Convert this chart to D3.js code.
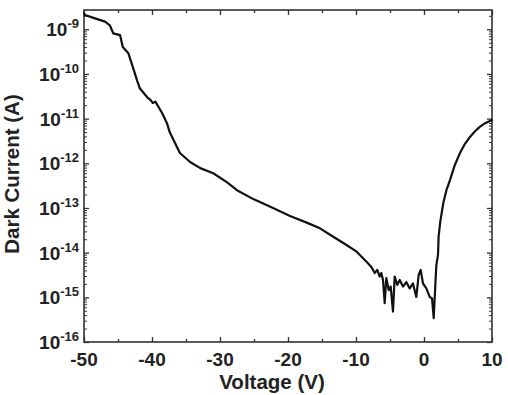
<!DOCTYPE html>
<html>
<head>
<meta charset="utf-8">
<script src="https://cdn.jsdelivr.net/npm/d3@7"></script>
<style>
  body { margin: 0; background: #fff; }
  text { font-family: "Liberation Sans", Arial, sans-serif; font-weight: bold; fill: #222; }
</style>
</head>
<body>
<div id="chart-area"></div>
<script>
let width = 508,
height = 395;

const margin = {top: 10, right: 16, bottom: 53, left: 84};

// data
const voltage = [-50, -49.85, -48.5, -46.9, -46.2, -45.7, -44.7, -44.3, -43.5, -42.8, -42.2, -41.8,
  -40.7, -40.2, -39.9, -39.5, -38.5, -37.8, -37.4, -36.6, -35.9, -34.4, -32.9, -31.0, -29.0,
  -27.5, -25.1, -22.2, -19.7, -17.25, -15.3, -13.4, -11.4, -9.9, -8.24, -7.75, -7.25, -6.87,
  -6.51, -6.28, -6.03, -5.78, -5.54, -5.19, -4.90, -4.56, -4.31, -3.93, -3.57, -3.09, -2.60,
  -2.10, -1.62, -1.13, -0.78, -0.49, -0.15, 0.34, 0.84, 1.18, 1.43, 1.57, 1.81, 2.06, 2.15,
  2.4, 2.84, 3.3, 3.82, 4.5, 5.29, 6.0, 6.76, 7.5, 8.24, 9.0, 10];
const current = [2.24e-9, 2.09e-9, 1.78e-9, 1.48e-9, 1.23e-9, 8.1e-10, 7.4e-10, 4.0e-10, 2.95e-10,
  1.41e-10, 7.2e-11, 4.8e-11, 3.0e-11, 2.6e-11, 2.24e-11, 2.4e-11, 1.32e-11, 7.9e-12, 5.0e-12,
  2.8e-12, 1.7e-12, 1.07e-12, 7.8e-13, 6.0e-13, 3.8e-13, 2.5e-13, 1.58e-13, 1.0e-13, 6.6e-14,
  4.7e-14, 3.5e-14, 2.3e-14, 1.48e-14, 1.05e-14, 5.8e-15, 4.8e-15, 3.5e-15, 4.1e-15, 2.9e-15,
  3.5e-15, 2.45e-15, 7.4e-16, 2.7e-15, 1.45e-15, 1.74e-15, 4.8e-16, 2.9e-15, 1.9e-15, 2.45e-15,
  1.74e-15, 2.2e-15, 1.58e-15, 2.05e-15, 1.02e-15, 3.2e-15, 4.1e-15, 2.05e-15, 1.58e-15,
  1.02e-15, 9.5e-16, 3.4e-16, 9.5e-16, 5.2e-15, 8.9e-15, 2.3e-14, 5.0e-14, 1.29e-13, 2.5e-13,
  4.2e-13, 8.9e-13, 1.7e-12, 2.7e-12, 3.9e-12, 5.2e-12, 6.6e-12, 7.9e-12, 9.3e-12];

const xTicks = [-50, -40, -30, -20, -10, 0, 10];
const xMinor = [-45, -35, -25, -15, -5, 5];
const yExponents = [-9, -10, -11, -12, -13, -14, -15, -16];

const data = voltage.map((v, i) => ({v: v, i: current[i]}));

const svg = d3.select("#chart-area")
  .append("svg")
  .attr("width", width)
  .attr("height", height);

let x = d3.scaleLinear()
  .domain([-50, 10])
  .range([margin.left, width - margin.right]);
let y = d3.scaleLog()
  .domain([1e-16, 2.7e-9])
  .range([height - margin.bottom, margin.top]);

const x0 = x.range()[0], x1 = x.range()[1];
const y0 = y.range()[0], y1 = y.range()[1];

// minor log ticks
let yMinor = [];
for (let e = -16; e <= -9; e++) {
  for (let m = 2; m <= 9; m++) {
    let val = m * Math.pow(10, e);
    if (val <= y.domain()[1]) yMinor.push(val);
  }
}

const tickColor = "#333";

// x axes (bottom + top), ticks pointing inward
[[y0, d3.axisTop], [y1, d3.axisBottom]].forEach(([pos, ax]) => {
  svg.append("g")
    .attr("transform", `translate(0,${pos})`)
    .call(ax(x).tickValues(xTicks).tickSize(5).tickFormat(""))
    .call(g => g.select(".domain").remove())
    .call(g => g.selectAll("line").attr("stroke", tickColor).attr("stroke-width", 1.3));
  svg.append("g")
    .attr("transform", `translate(0,${pos})`)
    .call(ax(x).tickValues(xMinor).tickSize(3).tickFormat(""))
    .call(g => g.select(".domain").remove())
    .call(g => g.selectAll("line").attr("stroke", tickColor).attr("stroke-width", 1.3));
});

// y axes (left + right)
const yMajor = yExponents.map(e => Math.pow(10, e));
[[x0, d3.axisRight], [x1, d3.axisLeft]].forEach(([pos, ax]) => {
  svg.append("g")
    .attr("transform", `translate(${pos},0)`)
    .call(ax(y).tickValues(yMajor).tickSize(5).tickFormat(""))
    .call(g => g.select(".domain").remove())
    .call(g => g.selectAll("line").attr("stroke", tickColor).attr("stroke-width", 1.3));
  svg.append("g")
    .attr("transform", `translate(${pos},0)`)
    .call(ax(y).tickValues(yMinor).tickSize(3).tickFormat(""))
    .call(g => g.select(".domain").remove())
    .call(g => g.selectAll("line").attr("stroke", tickColor).attr("stroke-width", 1));
});

// frame
svg.append("rect")
  .attr("x", x0).attr("y", y1)
  .attr("width", x1 - x0).attr("height", y0 - y1)
  .attr("fill", "none")
  .attr("stroke", "#333")
  .attr("stroke-width", 1.6);

// x tick labels
svg.append("g").selectAll("text")
  .data(xTicks)
  .join("text")
  .attr("x", d => x(d))
  .attr("y", y0 + 24)
  .attr("text-anchor", "middle")
  .attr("font-size", 19)
  .text(d => d);

// y tick labels 10^n
const yl = svg.append("g").selectAll("text")
  .data(yExponents)
  .join("text")
  .attr("x", x0 - 5)
  .attr("y", d => y(Math.pow(10, d)) + 7)
  .attr("text-anchor", "end")
  .attr("font-size", 19);
yl.append("tspan").text("10");
yl.append("tspan")
  .attr("font-size", 13)
  .attr("dy", -8)
  .text(d => d);

// axis titles
svg.append("text")
  .attr("x", 272)
  .attr("y", 389)
  .attr("text-anchor", "middle")
  .attr("font-size", 20.5)
  .text("Voltage (V)");
svg.append("text")
  .attr("transform", "translate(19,174) rotate(-90)")
  .attr("text-anchor", "middle")
  .attr("font-size", 20.5)
  .text("Dark Current (A)");

// the curve
const line = d3.line()
  .x(d => x(d.v))
  .y(d => y(d.i));

svg.append("path")
  .datum(data)
  .attr("fill", "none")
  .attr("stroke", "#111")
  .attr("stroke-width", 2.2)
  .attr("stroke-linejoin", "round")
  .attr("stroke-linecap", "round")
  .attr("d", line);
</script>
</body>
</html>
